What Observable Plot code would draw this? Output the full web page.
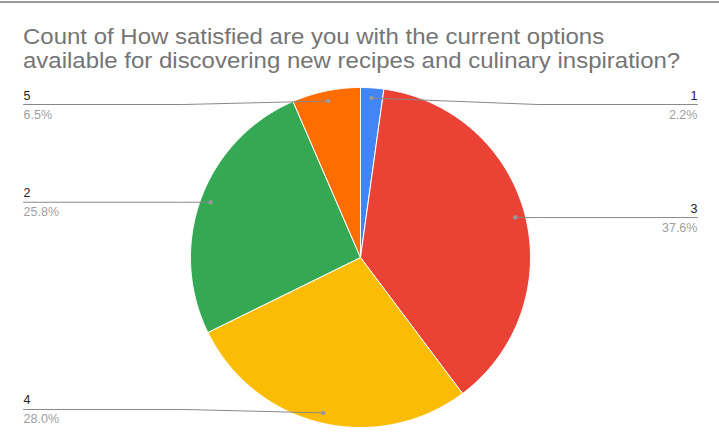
<!DOCTYPE html>
<html>
<head>
<meta charset="utf-8">
<script src="https://cdn.jsdelivr.net/npm/d3@7"></script>
<script src="https://cdn.jsdelivr.net/npm/@observablehq/plot@0.6"></script>
<style>
  html, body { margin: 0; padding: 0; background: #fff; }
  #wrap { position: relative; width: 719px; height: 447px; overflow: hidden; font-family: "Liberation Sans", Arial, sans-serif; }
  #topline { position: absolute; left: 0; top: 1px; width: 719px; height: 2px; background: #9a9a9a; }
  #title { position: absolute; left: 23px; top: 25px; font-size: 22px; line-height: 24px; color: #757575; white-space: nowrap; transform: scaleX(1.09); transform-origin: 0 0; }
  #chart { position: absolute; left: 0; top: 80px; }
</style>
</head>
<body>
<div id="wrap">
  <div id="topline"></div>
  <div id="title">Count of How satisfied are you with the current options<br>available for discovering new recipes and culinary inspiration?</div>
  <div id="chart"></div>
</div>
<script>
// Slices in clockwise order starting at 12 o'clock
const categories = ["1", "3", "4", "2", "5"];
const percents = [2.2, 37.6, 28.0, 25.8, 6.5];
const percentLabels = ["2.2%", "37.6%", "28.0%", "25.8%", "6.5%"];
const colors = ["#4285F4", "#EA4335", "#FBBC04", "#34A853", "#FF6D01"];

const arcs = d3.pie().sort(null).value(d => d)(percents);

// Slice polygons in unit-radius coordinates (y up)
const slicePts = [];
arcs.forEach((a, i) => {
  const n = Math.max(2, Math.ceil((a.endAngle - a.startAngle) / 0.01));
  slicePts.push({cat: categories[i], x: 0, y: 0});
  for (let k = 0; k <= n; k++) {
    const t = a.startAngle + (a.endAngle - a.startAngle) * k / n;
    slicePts.push({cat: categories[i], x: Math.sin(t), y: Math.cos(t)});
  }
  slicePts.push({cat: categories[i], x: 0, y: 0});
});

// Leader lines and labels
const dotR = 0.94, bendX = 1.04, labelX = 1.982, yMax = 0.9, yMin = -0.894;
const dots = [], leaders = [], labels = [];
arcs.forEach((a, i) => {
  const m = (a.startAngle + a.endAngle) / 2;
  const dx = dotR * Math.sin(m), dy = dotR * Math.cos(m);
  const side = Math.sin(m) >= 0 ? 1 : -1;
  const ly = Math.max(yMin, Math.min(yMax, dy));
  dots.push({cat: categories[i], x: dx, y: dy});
  leaders.push({cat: categories[i], x: dx, y: dy});
  leaders.push({cat: categories[i], x: side * bendX, y: ly});
  leaders.push({cat: categories[i], x: side * labelX, y: ly});
  labels.push({cat: categories[i], pct: percentLabels[i], x: side * labelX, y: ly, anchor: side > 0 ? "end" : "start"});
});

const colorScale = {domain: categories, range: colors};

const chart = Plot.plot({
  width: 719,
  height: 367,
  marginLeft: 190,
  marginRight: 189,
  marginTop: 7,
  marginBottom: 20,
  x: {domain: [-1, 1], axis: null},
  y: {domain: [-1, 1], axis: null},
  color: colorScale,
  style: {fontFamily: "'Liberation Sans', Arial, sans-serif", background: "transparent", overflow: "visible"},
  marks: [
    Plot.line(slicePts, {x: "x", y: "y", z: "cat", fill: "cat", stroke: "white", strokeWidth: 1, curve: "linear"}),
    Plot.line(leaders, {x: "x", y: "y", z: "cat", stroke: "#888", strokeWidth: 1}),
    Plot.dot(dots, {x: "x", y: "y", r: 2.2, fill: "#999", stroke: null}),
    Plot.text(labels.filter(d => d.anchor === "start"), {x: "x", y: "y", text: "cat", textAnchor: "start", lineAnchor: "bottom", dy: -5, fontSize: 12.5, fill: "#222"}),
    Plot.text(labels.filter(d => d.anchor === "end"), {x: "x", y: "y", text: "cat", textAnchor: "end", lineAnchor: "bottom", dy: -5, fontSize: 12.5, fill: "#222"}),
    Plot.text(labels.filter(d => d.anchor === "start"), {x: "x", y: "y", text: "pct", textAnchor: "start", lineAnchor: "bottom", dy: 14, fontSize: 12.5, fill: "#9e9e9e"}),
    Plot.text(labels.filter(d => d.anchor === "end"), {x: "x", y: "y", text: "pct", textAnchor: "end", lineAnchor: "bottom", dy: 14, fontSize: 12.5, fill: "#9e9e9e"})
  ]
});
document.getElementById("chart").appendChild(chart);
</script>
</body>
</html>
